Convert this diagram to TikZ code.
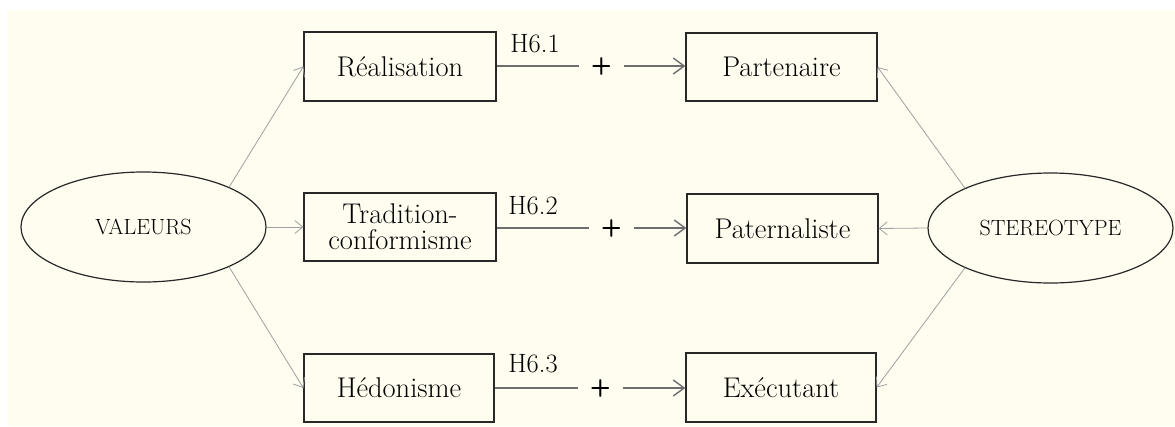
\documentclass[tikz,border=0pt]{standalone}
\usetikzlibrary{arrows.meta,shapes.geometric}
\definecolor{cream}{RGB}{255,253,240}
\definecolor{greyline}{RGB}{160,160,160}
\definecolor{darkline}{RGB}{110,110,110}
\definecolor{boxline}{RGB}{40,40,40}
\begin{document}
\begin{tikzpicture}[x=1pt,y=-1pt,
  box/.style={draw=boxline,line width=1.2pt,inner sep=0pt,fill=cream,
    font=\fontsize{28.5}{31}\selectfont,align=center},
  lat/.style={draw=boxline,line width=1.2pt,ellipse,inner sep=0pt,
    minimum width=245pt,minimum height=110pt,font=\fontsize{22}{24}\selectfont},
  plusnode/.style={inner sep=0pt,minimum width=45pt,minimum height=14pt,
    font=\sffamily\bfseries\fontsize{24}{24}\selectfont},
  hlab/.style={inner sep=0pt,font=\fontsize{26.5}{28}\selectfont},
  load/.style={draw=greyline,line width=0.8pt,-{Straight Barb[length=8pt,width=13pt]}},
  hyp/.style={draw=darkline,line width=1.6pt},
  hyparrow/.style={hyp,-{Straight Barb[length=11pt,width=16pt,line width=1.4pt]}}
]
\useasboundingbox (0,0) rectangle (1175,426);
\fill[white] (0,0) rectangle (1175,426);
\fill[cream] (7,10) rectangle (1175,426);

\node[lat] (val) at (143.5,227) {VALEURS};
\node[lat] (ste) at (1050.5,228) {STEREOTYPE};

\node[box,minimum width=192pt,minimum height=69pt] (rea) at (400,66.5) {Réalisation};
\node[box,minimum width=192pt,minimum height=68pt] (tra) at (400,227) {Tradition-\\[-5pt]conformisme};
\node[box,minimum width=190pt,minimum height=68pt] (hed) at (399,388) {Hédonisme};

\node[box,minimum width=191pt,minimum height=68pt] (par) at (781.5,67) {Partenaire};
\node[box,minimum width=191pt,minimum height=69pt] (pat) at (782.5,228.5) {Paternaliste};
\node[box,minimum width=190pt,minimum height=69pt] (exe) at (781,387.5) {Exécutant};

\node[plusnode] (p1) at (601.5,66) {+};
\node[plusnode] (p2) at (611.5,228) {+};
\node[plusnode] (p3) at (600.5,388) {+};

\node[hlab] (h1) at (535,44) {H6.1};
\node[hlab] (h2) at (533,206) {H6.2};
\node[hlab] (h3) at (533,364) {H6.3};

\draw[hyp] (rea.east |- p1) -- (p1.west);
\draw[hyparrow] (p1.east) -- (par.west |- p1);
\draw[hyp] (tra.east |- p2) -- (p2.west);
\draw[hyparrow] (p2.east) -- (pat.west |- p2);
\draw[hyp] (hed.east |- p3) -- (p3.west);
\draw[hyparrow] (p3.east) -- (exe.west |- p3);

\draw[load] (val.25) -- (rea.west);
\draw[load] (val.east) -- (tra.west);
\draw[load] (val.-25) -- (hed.west);

\draw[load] (ste.155) -- (par.east);
\draw[load] (ste.west) -- (pat.east);
\draw[load] (ste.205) -- (exe.east);
\end{tikzpicture}
\end{document}
